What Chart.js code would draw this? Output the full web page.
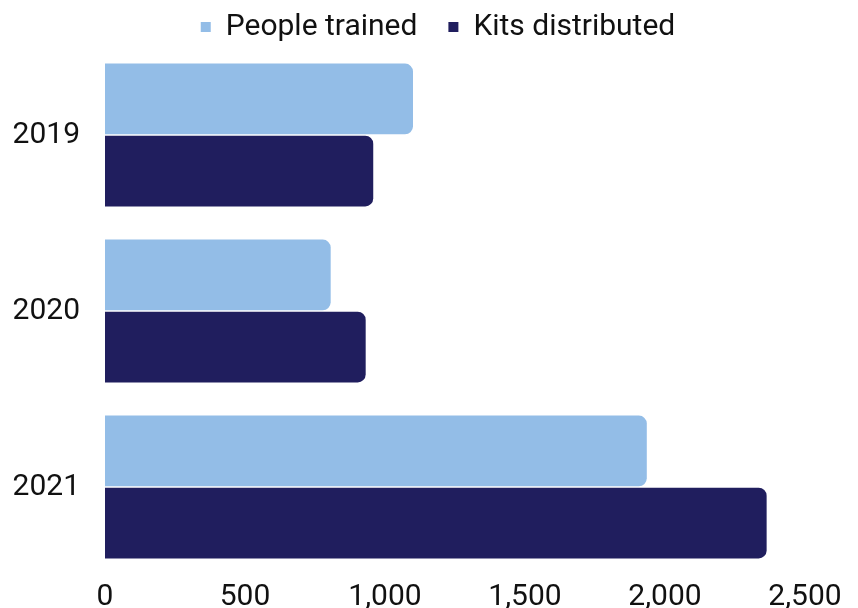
<!DOCTYPE html>
<html>
<head>
<meta charset="utf-8">
<script src="https://cdn.jsdelivr.net/npm/chart.js@4/dist/chart.umd.min.js"></script>
<style>
  html, body { margin: 0; padding: 0; background: #ffffff; }
  #wrap { width: 858px; height: 608px; position: relative; }
</style>
</head>
<body>
<div id="wrap"><canvas id="c"></canvas></div>
<script>
const categories = ["2019", "2020", "2021"];
const peopleTrained = [1100, 806, 1935];
const kitsDistributed = [958, 931, 2363];
const xTickValues = [0, 500, 1000, 1500, 2000, 2500];

const FONT = "Roboto, 'Noto Sans', sans-serif";

const legendShift = {
  id: 'legendShift',
  afterLayout(chart) {
    const lg = chart.legend;
    if (lg) {
      lg.top = -19;
      lg.left = 9;
      lg.right = chart.width + 9;
    }
  }
};

new Chart(document.getElementById('c'), {
  type: 'bar',
  data: {
    labels: categories,
    datasets: [
      { label: 'People trained', data: peopleTrained, backgroundColor: '#93BDE7', borderRadius: 8, borderSkipped: 'start' },
      { label: 'Kits distributed', data: kitsDistributed, backgroundColor: '#201E5E', borderRadius: 8, borderSkipped: 'start' }
    ]
  },
  plugins: [legendShift],
  options: {
    indexAxis: 'y',
    responsive: true,
    maintainAspectRatio: false,
    animation: false,
    devicePixelRatio: 1,
    layout: { padding: { left: 13, right: 53, top: 0, bottom: 0 } },
    datasets: { bar: { categoryPercentage: 0.82, barPercentage: 0.98 } },
    plugins: {
      legend: {
        position: 'top',
        maxHeight: 47,
        labels: {
          usePointStyle: true,
          pointStyle: 'rect',
          boxWidth: 10,
          boxHeight: 10,
          padding: 31,
          color: '#111111',
          font: { family: FONT, size: 30 }
        }
      },
      tooltip: { enabled: false }
    },
    scales: {
      x: {
        min: 0,
        max: 2500,
        afterBuildTicks: (axis) => { axis.ticks = xTickValues.map(v => ({ value: v })); },
        afterFit: (axis) => { axis.height = 33; },
        grid: { display: false, drawTicks: false },
        border: { display: false },
        ticks: {
          padding: 7,
          maxRotation: 0,
          color: '#111111',
          font: { family: FONT, size: 30, lineHeight: 1.0 },
          callback: (v) => Number(v).toLocaleString('en-US')
        }
      },
      y: {
        afterFit: (axis) => { axis.width = 92; axis.paddingTop = 0; axis.paddingBottom = 0; },
        grid: { display: false, drawTicks: false },
        border: { display: false },
        ticks: {
          padding: 25,
          color: '#111111',
          font: { family: FONT, size: 30 }
        }
      }
    }
  }
});
</script>
</body>
</html>
